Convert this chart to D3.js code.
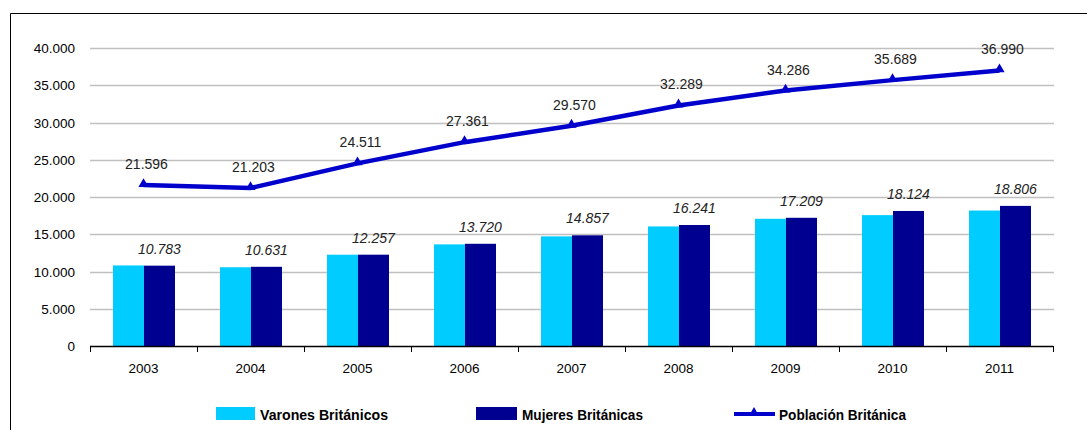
<!DOCTYPE html>
<html><head><meta charset="utf-8">
<script src="https://cdn.jsdelivr.net/npm/d3@7"></script>
<style>body{margin:0;background:#fff;} svg{display:block;font-family:"Liberation Sans",Arial,sans-serif;}</style>
</head><body>
<script>
const years = ["2003","2004","2005","2006","2007","2008","2009","2010","2011"];
const varones = [10813,10572,12254,13641,14713,16048,17077,17565,18184];
const mujeres = [10783,10631,12257,13720,14857,16241,17209,18124,18806];
const poblacion = [21596,21203,24511,27361,29570,32289,34286,35689,36990];
const yTicks = [0,5000,10000,15000,20000,25000,30000,35000,40000];
const seriesNames = ["Varones Británicos","Mujeres Británicas","Población Británica"];

const W=1087,H=430;
const fmt = v => d3.format(",")(v).replace(/,/g,".");
const svg = d3.select("body").append("svg").attr("width",W).attr("height",H);

// frame
svg.append("line").attr("x1",10.5).attr("x2",W).attr("y1",13.5).attr("y2",13.5).attr("stroke","#000");
svg.append("line").attr("x1",10.5).attr("x2",10.5).attr("y1",13.5).attr("y2",H).attr("stroke","#000");

const L=90,R=1053,T=48,B=346;
const x = d3.scaleBand().domain(years).range([L,R]);
const y = d3.scaleLinear().domain([0,40000]).range([B,T]);

// grid
svg.append("g").selectAll("line").data(yTicks.slice(1)).join("line")
  .attr("x1",L).attr("x2",R+1).attr("y1",d=>Math.round(y(d))+0.5).attr("y2",d=>Math.round(y(d))+0.5)
  .attr("stroke","#c0c0c0").attr("stroke-width",1.5);

// y labels
svg.append("g").selectAll("text").data(yTicks).join("text")
  .attr("x",75).attr("y",d=>y(d)+5).attr("text-anchor","end")
  .attr("font-size",13.5).attr("fill","#000").text(fmt);

const bw=31, gapL=23;
// bars
svg.append("g").selectAll("rect").data(years).join("rect")
  .attr("x",d=>x(d)+gapL).attr("width",bw)
  .attr("y",(d,i)=>y(varones[i])).attr("height",(d,i)=>B-y(varones[i])).attr("fill","#00ccff");
svg.append("g").selectAll("rect").data(years).join("rect")
  .attr("x",d=>x(d)+gapL+bw).attr("width",bw)
  .attr("y",(d,i)=>y(mujeres[i])).attr("height",(d,i)=>B-y(mujeres[i])).attr("fill","#000090");

// x axis
const xa = svg.append("g").attr("transform",`translate(0,${B})`);
xa.append("line").attr("x1",L).attr("x2",R).attr("y1",0.5).attr("y2",0.5).attr("stroke","#000").attr("stroke-width",1.5);
const bounds = years.map(d=>x(d)).concat([R]);
xa.selectAll("line.t").data(bounds).join("line").attr("class","t")
  .attr("x1",d=>Math.round(d)+0.5).attr("x2",d=>Math.round(d)+0.5).attr("y1",0).attr("y2",6).attr("stroke","#000");
xa.selectAll("text").data(years).join("text")
  .attr("x",d=>x(d)+x.bandwidth()/2).attr("y",27).attr("text-anchor","middle")
  .attr("font-size",13.5).text(d=>d);

// female labels
svg.append("g").selectAll("text").data(years).join("text")
  .attr("x",d=>x(d)+gapL+bw*1.5).attr("y",(d,i)=>y(mujeres[i])-12)
  .attr("text-anchor","middle").attr("font-size",14).attr("font-style","italic").attr("fill","#222")
  .text((d,i)=>fmt(mujeres[i]));

// line
const cx = d=>x(d)+x.bandwidth()/2;
const line = d3.line().x((d,i)=>cx(years[i])).y(d=>y(d));
svg.append("path").datum(poblacion).attr("d",line).attr("fill","none").attr("stroke","#0000cc").attr("stroke-width",4.5);
const tri = d3.symbol().type(d3.symbolTriangle).size(45);
svg.append("g").selectAll("path").data(poblacion).join("path")
  .attr("d",tri).attr("transform",(d,i)=>`translate(${cx(years[i])},${y(d)-1})`).attr("fill","#0000cc");
svg.append("g").selectAll("text").data(poblacion).join("text")
  .attr("x",(d,i)=>cx(years[i])+3).attr("y",d=>y(d)-16)
  .attr("text-anchor","middle").attr("font-size",14).attr("fill","#222").text(fmt);

// legend
const lg = svg.append("g").attr("font-size",15).attr("font-weight","bold");
lg.append("rect").attr("x",216).attr("y",407).attr("width",39).attr("height",13).attr("fill","#00ccff");
lg.append("text").attr("x",260).attr("y",420).text(seriesNames[0]).attr("textLength",128).attr("lengthAdjust","spacingAndGlyphs");
lg.append("rect").attr("x",476).attr("y",407).attr("width",41).attr("height",13).attr("fill","#000090");
lg.append("text").attr("x",522).attr("y",420).text(seriesNames[1]).attr("textLength",121).attr("lengthAdjust","spacingAndGlyphs");
lg.append("line").attr("x1",734).attr("x2",775).attr("y1",414).attr("y2",414).attr("stroke","#0000cc").attr("stroke-width",4);
lg.append("path").attr("d",tri).attr("transform","translate(754,413)").attr("fill","#0000cc");
lg.append("text").attr("x",779).attr("y",420).text(seriesNames[2]).attr("textLength",127).attr("lengthAdjust","spacingAndGlyphs");
</script>
</body></html>
